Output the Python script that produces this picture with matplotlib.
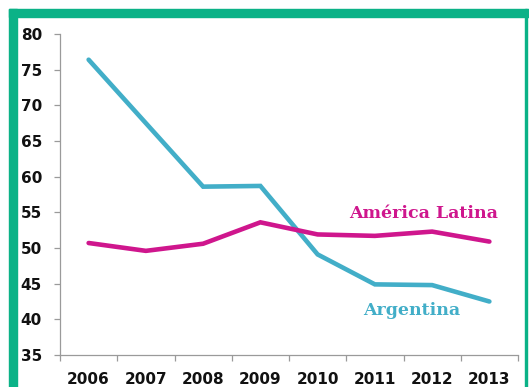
import matplotlib
matplotlib.use("Agg")
import matplotlib.pyplot as plt
from matplotlib.patches import Rectangle
from matplotlib.ticker import FixedLocator

years = ["2006", "2007", "2008", "2009", "2010", "2011", "2012", "2013"]
argentina = [76.4, 67.5, 58.6, 58.7, 49.1, 44.9, 44.8, 42.5]
america_latina = [50.7, 49.6, 50.6, 53.6, 51.9, 51.7, 52.3, 50.9]
y_ticks = [35, 40, 45, 50, 55, 60, 65, 70, 75, 80]

TEAL = "#42AEC8"
MAGENTA = "#CF168D"
GREEN = "#0BB287"
GRAY = "#9A9A9A"

W, H = 529, 387
fig = plt.figure(figsize=(W / 100, H / 100), dpi=100)
fig.patch.set_facecolor("white")

# green frame
fig.patches.append(Rectangle((9 / W, 0), 8 / W, 1 - 9 / H, transform=fig.transFigure,
                             color=GREEN, zorder=0))
fig.patches.append(Rectangle((9 / W, 1 - 16.5 / H), 1, 7.5 / H, transform=fig.transFigure,
                             color=GREEN, zorder=0))
fig.patches.append(Rectangle((525 / W, 0), 2 / W, 1 - 9 / H, transform=fig.transFigure,
                             color=GREEN, zorder=0))

ax = fig.add_axes([60 / W, 1 - 355 / H, (518 - 60) / W, (355 - 34) / H])
x = list(range(len(years)))
ax.plot(x, argentina, color=TEAL, lw=3.3, solid_capstyle="round", solid_joinstyle="miter")
ax.plot(x, america_latina, color=MAGENTA, lw=3.3, solid_capstyle="round", solid_joinstyle="miter")

ax.set_xlim(-0.5, len(years) - 0.5)
ax.set_ylim(35, 80)
ax.set_yticks(y_ticks)
ax.set_yticklabels([str(v) for v in y_ticks])
ax.set_xticks(x)
ax.set_xticklabels(years)
ax.xaxis.set_minor_locator(FixedLocator([i - 0.5 for i in range(len(years) + 1)]))

for s in ["top", "right"]:
    ax.spines[s].set_visible(False)
for s in ["left", "bottom"]:
    ax.spines[s].set_color(GRAY)
    ax.spines[s].set_linewidth(0.9)

ax.tick_params(axis="y", length=4, width=0.9, color=GRAY, pad=9, labelsize=11)
ax.tick_params(axis="x", which="major", length=0, pad=12, labelsize=11)
ax.tick_params(axis="x", which="minor", length=4, width=0.9, color=GRAY)
for lab in ax.get_xticklabels() + ax.get_yticklabels():
    lab.set_fontweight("heavy")
    lab.set_color("#111111")

ax.text(5.85, 54.8, "América Latina", color=MAGENTA, fontsize=12.5, fontweight="heavy",
        family="DejaVu Serif", ha="center", va="center")
ax.text(5.64, 41.3, "Argentina", color=TEAL, fontsize=12.5, fontweight="heavy",
        family="DejaVu Serif", ha="center", va="center")

fig.savefig("out.png", dpi=100)
